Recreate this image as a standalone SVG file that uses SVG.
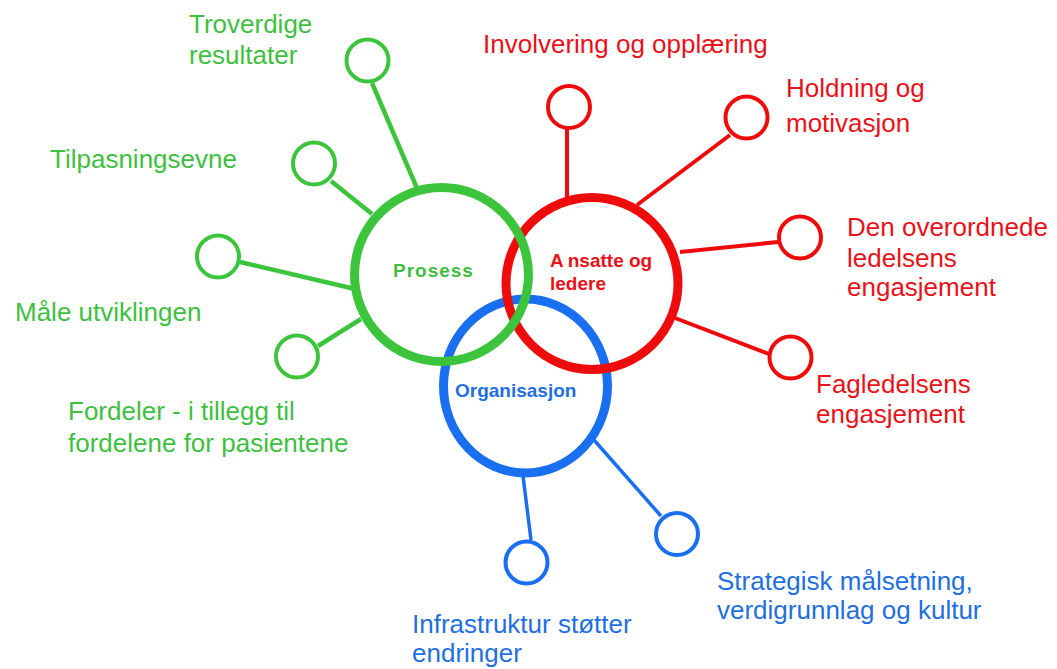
<svg xmlns="http://www.w3.org/2000/svg" width="1057" height="669" viewBox="0 0 1057 669">
<style>
.bg{fill:#ffffff}
.lbl{font-family:"Liberation Sans",Arial,sans-serif;font-size:26px}
.hub{font-family:"Liberation Sans",Arial,sans-serif;font-size:19px;font-weight:bold}
.g{fill:#3fbf3f}.r{fill:#e8121a}.b{fill:#1f6fe0}
.gs{stroke:#3cc43c;fill:#fff}.rs{stroke:#ee0b0b;fill:#fff}.bs{stroke:#1a6ff0;fill:#fff}
.big{stroke-width:9;fill:none}
.small{stroke-width:4}
.cg line{stroke:#3cc43c;stroke-width:4.5}
.cr line{stroke:#ee0b0b;stroke-width:4}
.cb line{stroke:#1a6ff0;stroke-width:3.5}
</style>
<rect class="bg" x="0" y="0" width="1057" height="669"/>
<g id="connectors">
<g class="cg">
<line x1="372" y1="83" x2="419" y2="193"/>
<line x1="331" y1="181" x2="372" y2="214"/>
<line x1="240" y1="262" x2="355" y2="289"/>
<line x1="318" y1="346" x2="361" y2="319"/>
</g>
<g class="cr">
<line x1="567" y1="129" x2="567" y2="197"/>
<line x1="730" y1="135" x2="637" y2="205"/>
<line x1="778" y1="242" x2="680" y2="252"/>
<line x1="769" y1="354" x2="675" y2="318"/>
</g>
<g class="cb">
<line x1="523" y1="476" x2="531" y2="540"/>
<line x1="594" y1="440" x2="661" y2="516"/>
</g>
</g>
<g id="organisasjon">
<ellipse class="bs big" cx="525.5" cy="386" rx="82" ry="87"/>
<text class="hub b" x="455" y="397">Organisasjon</text>
</g>
<g id="ansatte">
<circle class="rs big" cx="592" cy="283.5" r="86"/>
<text class="hub r" x="550" y="267">A<tspan dx="4">nsatte og</tspan></text>
<text class="hub r" x="550" y="290">ledere</text>
</g>
<g id="prosess">
<circle class="gs big" cx="441.5" cy="274.5" r="87"/>
<text class="hub g" x="393" y="277" letter-spacing="1">Prosess</text>
</g>
<g id="troverdige">
<circle class="gs small" cx="367.5" cy="60.5" r="21"/>
<text class="lbl g" x="189" y="33">Troverdige</text>
<text class="lbl g" x="189" y="64">resultater</text>
</g>
<g id="tilpasning">
<circle class="gs small" cx="314" cy="163.5" r="21"/>
<text class="lbl g" x="50" y="168">Tilpasningsevne</text>
</g>
<g id="maale">
<circle class="gs small" cx="218" cy="256.5" r="21"/>
<text class="lbl g" x="15" y="321">Måle utviklingen</text>
</g>
<g id="fordeler">
<circle class="gs small" cx="297" cy="356.5" r="21"/>
<text class="lbl g" x="68" y="420">Fordeler - i tillegg til</text>
<text class="lbl g" x="68" y="452">fordelene for pasientene</text>
</g>
<g id="involvering">
<circle class="rs small" cx="569" cy="107" r="21"/>
<text class="lbl r" x="483" y="53">Involvering og opplæring</text>
</g>
<g id="holdning">
<circle class="rs small" cx="746.5" cy="117.5" r="21"/>
<text class="lbl r" x="786" y="97">Holdning og</text>
<text class="lbl r" x="786" y="132">motivasjon</text>
</g>
<g id="overordnede">
<circle class="rs small" cx="800" cy="237.5" r="21"/>
<text class="lbl r" x="847" y="236">Den overordnede</text>
<text class="lbl r" x="847" y="267">ledelsens</text>
<text class="lbl r" x="847" y="296">engasjement</text>
</g>
<g id="fagledelsens">
<circle class="rs small" cx="790.5" cy="357.5" r="21"/>
<text class="lbl r" x="816" y="393">Fagledelsens</text>
<text class="lbl r" x="816" y="423">engasjement</text>
</g>
<g id="infrastruktur">
<circle class="bs small" cx="526.5" cy="562.5" r="21"/>
<text class="lbl b" x="412" y="633" font-size="25">Infrastruktur støtter</text>
<text class="lbl b" x="412" y="662" font-size="25">endringer</text>
</g>
<g id="strategisk">
<circle class="bs small" cx="677" cy="534" r="21"/>
<text class="lbl b" x="717" y="590">Strategisk målsetning,</text>
<text class="lbl b" x="717" y="619">verdigrunnlag og kultur</text>
</g>
</svg>
